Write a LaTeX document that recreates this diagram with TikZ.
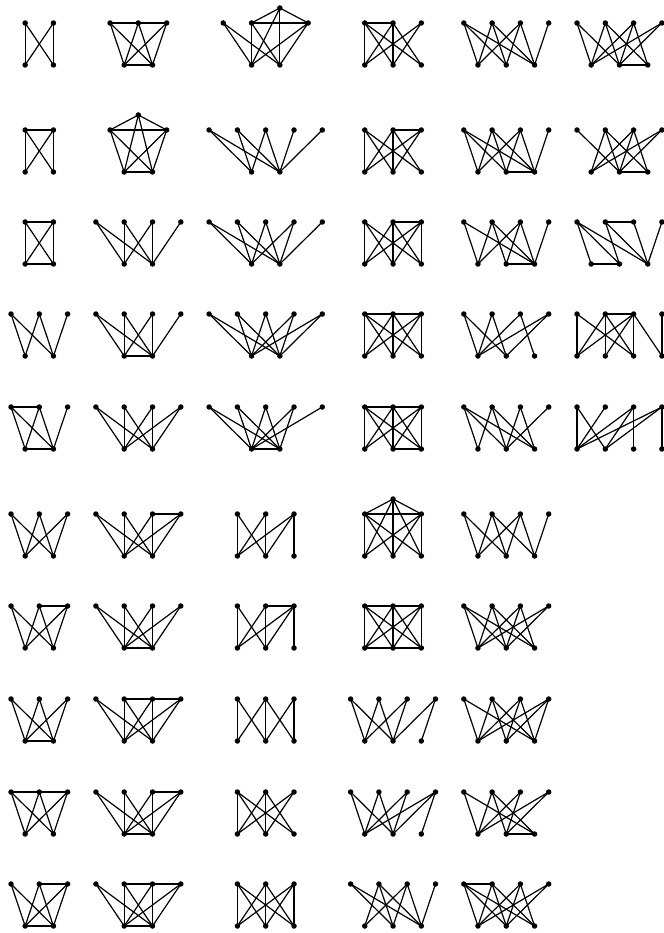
\documentclass[tikz,border=0pt]{standalone}
\tikzset{dot/.style={circle,fill=black,inner sep=0pt,minimum size=5.5pt},
  edge/.style={line width=1.2pt,black}}
\newcommand{\gph}[6]{%
  \foreach \k [count=\i] in {#3} {\node[dot] (#1t\i) at ({11+14.15*\k},#2) {};}
  \foreach \k [count=\i] in {#4} {\node[dot] (#1b\i) at ({11+14.15*\k},{#2+42}) {};}
  \if\relax\detokenize{#5}\relax\else\node[dot] (#1p) at ({11+14.15*#5},{#2-15}) {};\fi
  \foreach \u/\v in {#6} {\draw[edge] (#1\u.center) -- (#1\v.center);}
}
\begin{document}
\begin{tikzpicture}[x=1pt,y=-1pt]
\useasboundingbox (0,0) rectangle (663,933);
% ---------- column 1 ----------
\gph{aa}{23}{1,3}{1,3}{}{t1/b1,t2/b2,t1/b2,t2/b1}
\gph{ba}{130}{1,3}{1,3}{}{t1/t2,t1/b1,t2/b2,t1/b2,t2/b1}
\gph{ca}{222}{1,3}{1,3}{}{t1/t2,b1/b2,t1/b1,t2/b2,t1/b2,t2/b1}
\gph{da}{314}{0,2,4}{1,3}{}{t1/b1,t1/b2,t2/b1,t2/b2,t3/b2}
\gph{ea}{407}{0,2,4}{1,3}{}{t1/t2,b1/b2,t1/b1,t1/b2,t2/b1,t2/b2,t3/b2}
\gph{fa}{514}{0,2,4}{1,3}{}{t1/b1,t1/b2,t2/b1,t2/b2,t3/b1,t3/b2}
\gph{ga}{606}{0,2,4}{1,3}{}{t2/t3,t1/b1,t1/b2,t2/b1,t2/b2,t3/b1,t3/b2}
\gph{ha}{699}{0,2,4}{1,3}{}{b1/b2,t1/b1,t1/b2,t2/b1,t2/b2,t3/b1,t3/b2}
\gph{ia}{792}{0,2,4}{1,3}{}{t1/t2,t2/t3,t1/b1,t1/b2,t2/b1,t2/b2,t3/b1,t3/b2}
\gph{ja}{884}{0,2,4}{1,3}{}{t2/t3,b1/b2,t1/b1,t1/b2,t2/b1,t2/b2,t3/b1,t3/b2}
% ---------- column 2 ----------
\gph{ab}{23}{7,9,11}{8,10}{}{t1/t2,t2/t3,t1/b1,t1/b2,t2/b1,t2/b2,t3/b1,t3/b2,b1/b2}
\gph{bb}{130}{7,11}{8,10}{9}{p/t1,p/t2,t1/t2,p/b1,p/b2,t1/b1,t1/b2,t2/b1,t2/b2,b1/b2}
\gph{cb}{222}{6,8,10,12}{8,10}{}{t1/b1,t1/b2,t2/b1,t2/b2,t3/b1,t3/b2,t4/b2}
\gph{db}{314}{6,8,10,12}{8,10}{}{t1/b1,t1/b2,t2/b1,t2/b2,t3/b1,t3/b2,t4/b2,b1/b2}
\gph{eb}{407}{6,8,10,12}{8,10}{}{t1/b1,t1/b2,t2/b1,t2/b2,t3/b1,t3/b2,t4/b1,t4/b2}
\gph{fb}{514}{6,8,10,12}{8,10}{}{t3/t4,t1/b1,t1/b2,t2/b1,t2/b2,t3/b1,t3/b2,t4/b1,t4/b2}
\gph{gb}{606}{6,8,10,12}{8,10}{}{b1/b2,t1/b1,t1/b2,t2/b1,t2/b2,t3/b1,t3/b2,t4/b1,t4/b2}
\gph{hb}{699}{6,8,10,12}{8,10}{}{t2/t3,t3/t4,t1/b1,t1/b2,t2/b1,t2/b2,t3/b1,t3/b2,t4/b1,t4/b2}
\gph{ib}{792}{6,8,10,12}{8,10}{}{t3/t4,b1/b2,t1/b1,t1/b2,t2/b1,t2/b2,t3/b1,t3/b2,t4/b1,t4/b2}
\gph{jb}{884}{6,8,10,12}{8,10}{}{t2/t3,t3/t4,b1/b2,t1/b1,t1/b2,t2/b1,t2/b2,t3/b1,t3/b2,t4/b1,t4/b2}
% ---------- column 3 ----------
\gph{ac}{23}{15,17,21}{17,19}{19}{t1/b1,t1/b2,t2/p,p/t3,t2/t3,t2/b1,t2/b2,p/b1,p/b2,t3/b1,t3/b2}
\gph{bc}{130}{14,16,18,20,22}{17,19}{}{t1/b1,t1/b2,t2/b1,t2/b2,t3/b1,t3/b2,t4/b2,t5/b2}
\gph{cc}{222}{14,16,18,20,22}{17,19}{}{t1/b1,t1/b2,t2/b1,t2/b2,t3/b1,t3/b2,t4/b1,t4/b2,t5/b2}
\gph{dc}{314}{14,16,18,20,22}{17,19}{}{t1/b1,t1/b2,t2/b1,t2/b2,t3/b1,t3/b2,t4/b1,t4/b2,t5/b1,t5/b2}
\gph{ec}{407}{14,16,18,20,22}{17,19}{}{t1/b1,t1/b2,t2/b1,t2/b2,t3/b1,t3/b2,t4/b1,t4/b2,t5/b1,b1/b2}
\gph{fc}{514}{16,18,20}{16,18,20}{}{t1/b1,t1/b2,t2/b1,t2/b2,t3/b1,t3/b2,t3/b3}
\gph{gc}{606}{16,18,20}{16,18,20}{}{t2/t3,t1/b1,t1/b2,t2/b1,t2/b2,t3/b1,t3/b2,t3/b3}
\gph{hc}{699}{16,18,20}{16,18,20}{}{t1/b1,t1/b2,t2/b1,t2/b2,t2/b3,t3/b2,t3/b3}
\gph{ic}{792}{16,18,20}{16,18,20}{}{t1/b1,t1/b2,t1/b3,t2/b1,t2/b2,t2/b3,t3/b1,t3/b2}
\gph{jc}{884}{16,18,20}{16,18,20}{}{t1/b1,t1/b2,t1/b3,t2/b1,t2/b2,t2/b3,t3/b1,t3/b2,t3/b3}
% ---------- column 4 ----------
\gph{ad}{23}{25,27,29}{25,27,29}{}{t1/t2,t1/b1,t1/b2,t1/b3,t2/b1,t2/b2,t2/b3,t3/b1,t3/b2}
\gph{bd}{130}{25,27,29}{25,27,29}{}{t2/t3,t1/b1,t1/b2,t1/b3,t2/b1,t2/b2,t2/b3,t3/b1,t3/b2}
\gph{cd}{222}{25,27,29}{25,27,29}{}{t2/t3,t1/b1,t1/b2,t1/b3,t2/b1,t2/b2,t2/b3,t3/b1,t3/b2,t3/b3}
\gph{dd}{314}{25,27,29}{25,27,29}{}{t1/t2,t2/t3,t1/b1,t1/b2,t1/b3,t2/b1,t2/b2,t2/b3,t3/b1,t3/b2,t3/b3}
\gph{ed}{407}{25,27,29}{25,27,29}{}{t1/t2,t2/t3,b2/b3,t1/b1,t1/b2,t1/b3,t2/b1,t2/b2,t2/b3,t3/b1,t3/b2,t3/b3}
\gph{fd}{514}{25,29}{25,27,29}{27}{p/t1,p/t2,t1/t2,t1/b1,t1/b2,t1/b3,p/b1,p/b2,p/b3,t2/b1,t2/b2,t2/b3}
\gph{gd}{606}{25,27,29}{25,27,29}{}{t1/t2,t2/t3,b1/b2,b2/b3,t1/b1,t1/b2,t1/b3,t2/b1,t2/b2,t2/b3,t3/b1,t3/b2,t3/b3}
\gph{hd}{699}{24,26,28,30}{25,27,29}{}{t1/b1,t1/b2,t2/b1,t2/b2,t3/b1,t3/b2,t4/b2,t4/b3}
\gph{id}{792}{24,26,28,30}{25,27,29}{}{t1/b1,t1/b2,t2/b1,t2/b2,t3/b1,t3/b2,t4/b1,t4/b2,t4/b3}
\gph{jd}{884}{24,26,28,30}{25,27,29}{}{t1/b2,t1/b3,t2/b1,t2/b2,t2/b3,t3/b1,t3/b2,t3/b3,t4/b3}
% ---------- column 5 ----------
\gph{ae}{23}{32,34,36,38}{33,35,37}{}{t1/b1,t1/b2,t1/b3,t2/b1,t2/b2,t2/b3,t3/b1,t3/b2,t3/b3,t4/b3}
\gph{be}{130}{32,34,36,38}{33,35,37}{}{t1/b1,t1/b2,t1/b3,t2/b1,t2/b2,t2/b3,t3/b1,t3/b2,t3/b3,t4/b3,b2/b3}
\gph{ce}{222}{32,34,36,38}{33,35,37}{}{t1/b1,t1/b3,t2/b1,t2/b2,t2/b3,t3/b1,t3/b2,t3/b3,t4/b3,b2/b3}
\gph{de}{314}{32,34,36,38}{33,35,37}{}{t1/b1,t1/b2,t2/b1,t2/b2,t3/b1,t3/b3,t4/b1,t4/b2}
\gph{ee}{407}{32,34,36,38}{33,35,37}{}{t1/b1,t1/b2,t1/b3,t2/b1,t2/b2,t2/b3,t3/b2,t3/b3,t4/b2}
\gph{fe}{514}{32,34,36,38}{33,35,37}{}{t1/b1,t1/b2,t2/b1,t2/b2,t2/b3,t3/b1,t3/b2,t3/b3,t4/b3}
\gph{ge}{606}{32,34,36,38}{33,35,37}{}{t1/b1,t1/b2,t1/b3,t2/b1,t2/b2,t2/b3,t3/b1,t3/b2,t3/b3,t4/b1,t4/b2}
\gph{he}{699}{32,34,36,38}{33,35,37}{}{t1/b1,t1/b3,t2/b1,t2/b2,t2/b3,t3/b1,t3/b2,t3/b3,t4/b1,t4/b2,t4/b3}
\gph{ie}{792}{32,34,36,38}{33,35,37}{}{t1/b1,t1/b3,t2/b1,t2/b2,t2/b3,t3/b1,t3/b2,t4/b1,t4/b2,b2/b3}
\gph{je}{884}{32,34,36,38}{33,35,37}{}{t1/t2,t1/b1,t1/b2,t1/b3,t2/b1,t2/b2,t2/b3,t3/b1,t3/b2,t3/b3,t4/b1,t4/b2}
% ---------- column 6 ----------
\gph{af}{23}{40,42,44,46}{41,43,45}{}{t1/b1,t1/b2,t2/b1,t2/b2,t2/b3,t3/b1,t3/b2,t3/b3,t4/b1,t4/b2,b2/b3}
\gph{bf}{130}{40,42,44,46}{41,43,45}{}{t1/b2,t2/b1,t2/b2,t2/b3,t3/b1,t3/b2,t3/b3,t4/b1,t4/b2,b2/b3}
\gph{cf}{222}{40,42,44,46}{41,43,45}{}{t1/b1,t1/b2,t1/b3,t2/t3,t2/b2,t2/b3,t3/b3,t4/b3,b1/b2}
\gph{df}{314}{40,42,44,46}{40,42,44,46}{}{t2/t3,t1/b1,t1/b3,t2/b1,t2/b2,t2/b3,t3/b1,t3/b2,t3/b3,t3/b4,t4/b4}
\gph{ef}{407}{40,42,44,46}{40,42,44,46}{}{t1/b1,t1/b2,t2/b1,t3/b1,t3/b2,t3/b3,t4/b1,t4/b2,t4/b4}
\end{tikzpicture}
\end{document}
